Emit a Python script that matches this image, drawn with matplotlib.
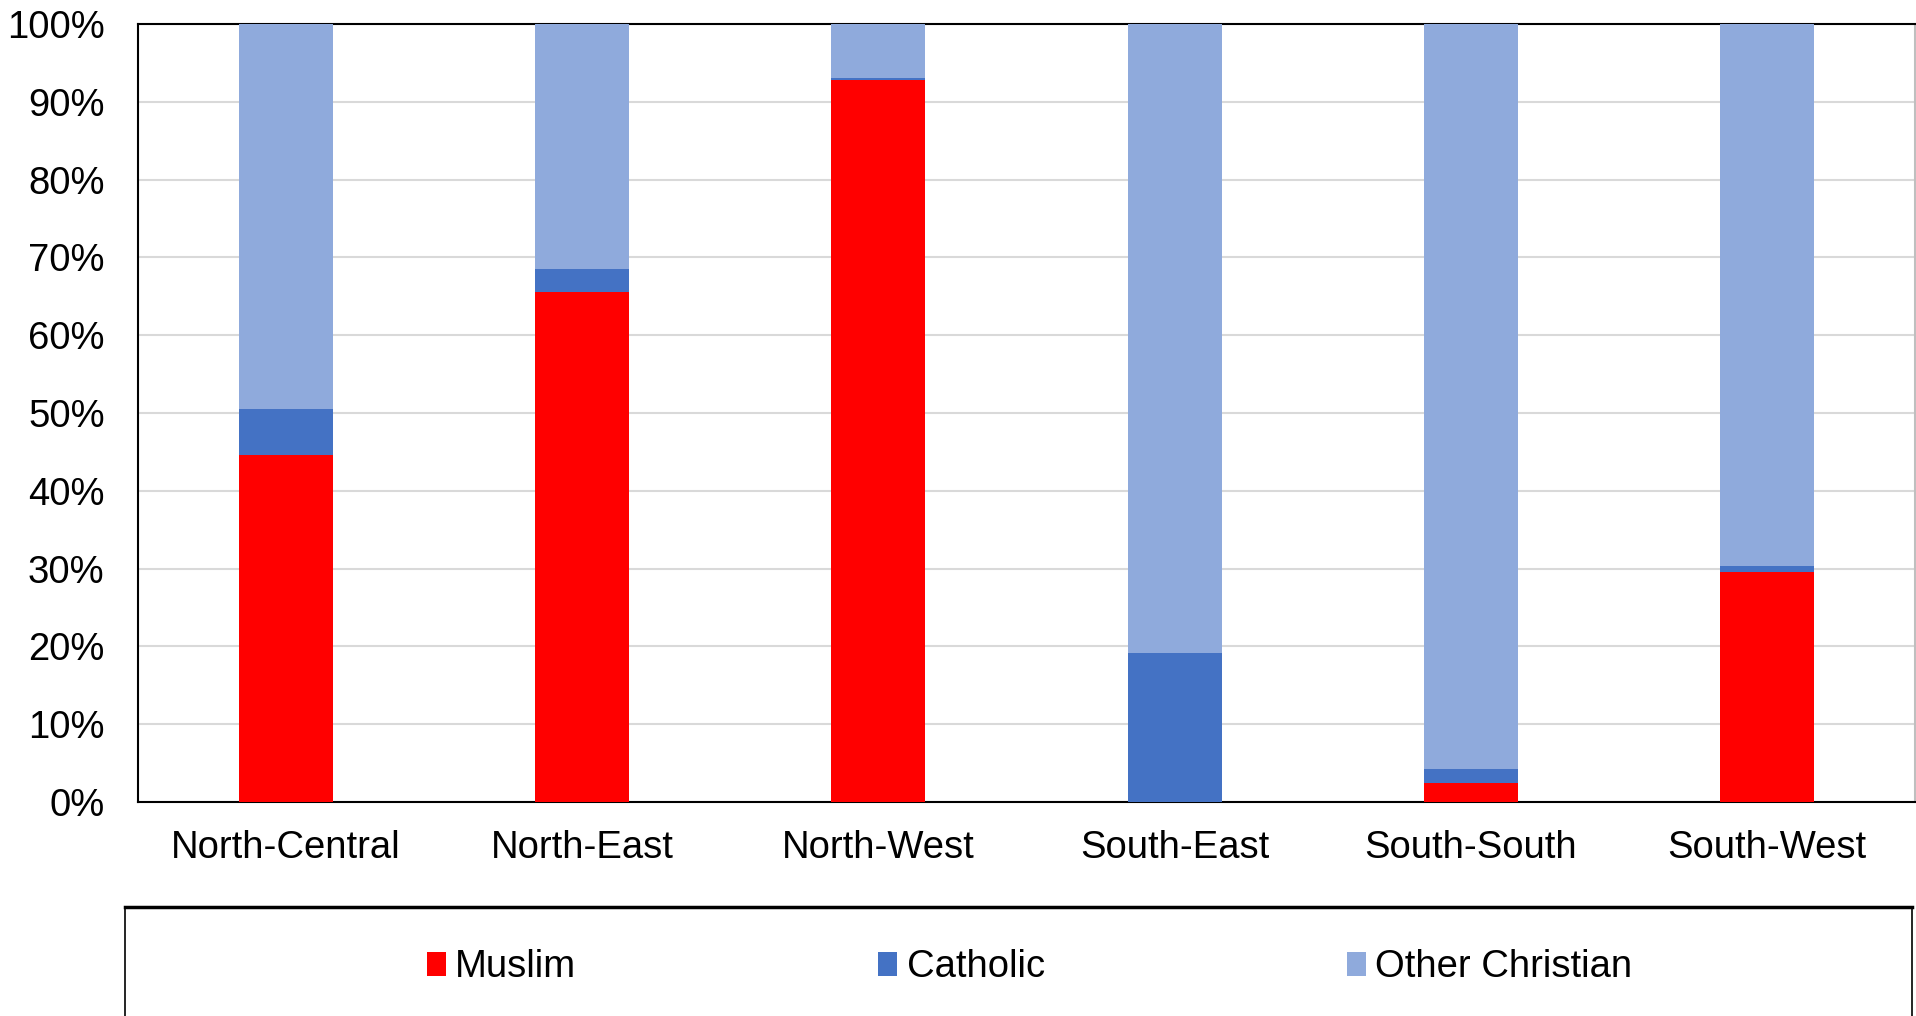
import matplotlib.pyplot as plt
from matplotlib.patches import Rectangle
from matplotlib.lines import Line2D
from matplotlib.ticker import PercentFormatter

regions = ["North-Central", "North-East", "North-West", "South-East", "South-South", "South-West"]
muslim = [44.6, 65.6, 92.8, 0.0, 2.4, 29.6]
catholic = [5.9, 2.9, 0.3, 19.2, 1.8, 0.7]
other_christian = [49.5, 31.5, 6.9, 80.8, 95.8, 69.7]

plt.rcParams['font.family'] = ['Liberation Sans', 'DejaVu Sans']

fig = plt.figure(figsize=(19.16, 10.16), dpi=100)
ax = fig.add_axes([0.072, 0.2106, 0.9275, 0.7658])

x = range(len(regions))
w = 0.317
b1 = ax.bar(x, muslim, w, color="#FF0000", label="Muslim", zorder=3)
b2 = ax.bar(x, catholic, w, bottom=muslim, color="#4472C4", label="Catholic", zorder=3)
bottom3 = [m + c for m, c in zip(muslim, catholic)]
b3 = ax.bar(x, other_christian, w, bottom=bottom3, color="#8FAADC", label="Other Christian", zorder=3)

ax.set_xlim(-0.5, len(regions) - 0.5)
ax.set_ylim(0, 100)
ax.set_yticks(range(0, 101, 10))
ax.yaxis.set_major_formatter(PercentFormatter(decimals=0))
ax.set_xticks(list(x))
ax.set_xticklabels(regions)
ax.tick_params(axis="y", length=0, pad=24, labelsize=27.5)
ax.tick_params(axis="x", length=0, pad=20, labelsize=27.5)
ax.grid(axis="y", color="#D9D9D9", linewidth=1.5, zorder=0)

for side in ["left", "bottom", "top"]:
    ax.spines[side].set_color("black")
    ax.spines[side].set_linewidth(1.5)
ax.spines["right"].set_color("#BFBFBF")
ax.spines["right"].set_linewidth(1.5)

# legend box at the bottom
fig.patches.append(Rectangle((0.0652, -0.01), 0.9328, 0.1173, transform=fig.transFigure,
                             fill=False, edgecolor="black", linewidth=1.2))
fig.lines.append(Line2D([0.0652, 0.998], [0.1073, 0.1073], transform=fig.transFigure,
                        color="black", linewidth=2.5))

fig.legend(handles=[b1, b2, b3], loc="center", bbox_to_anchor=(0.5373, 0.048), ncol=3,
           frameon=False, fontsize=27.5, handlelength=0.5, handleheight=0.6,
           handletextpad=0.25, columnspacing=7.9)

fig.savefig("out.png", dpi=100)
